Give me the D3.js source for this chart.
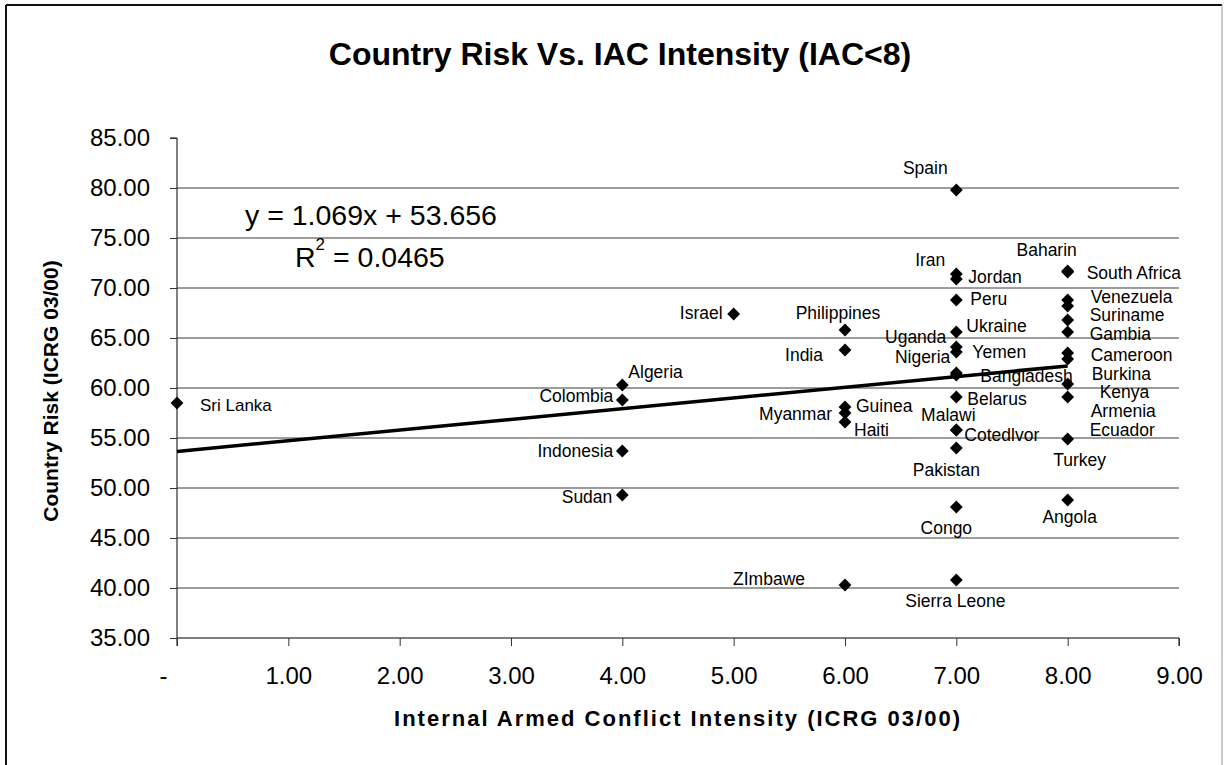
<!DOCTYPE html>
<html>
<head>
<meta charset="utf-8">
<script src="https://cdn.jsdelivr.net/npm/d3@7"></script>
<style>
  html, body { margin: 0; padding: 0; background: #fff; }
  text { font-family: "Liberation Sans", Arial, Helvetica, sans-serif; fill: #000; }
</style>
</head>
<body>
<svg id="chart" width="1225" height="765"></svg>
<script>
// Country risk (ICRG 03/00) against internal armed conflict intensity (ICRG 03/00)
const countries = [
  "Sri Lanka",
  "Algeria", "Colombia", "Indonesia", "Sudan",
  "Israel",
  "Philippines", "India", "Guinea", "Myanmar", "Haiti", "ZImbawe",
  "Spain", "Iran", "Jordan", "Peru", "Ukraine", "Uganda", "Yemen", "Nigeria",
  "Bangladesh", "Belarus", "Malawi", "Cotedlvor", "Pakistan", "Congo", "Sierra Leone",
  "Baharin", "South Africa", "Venezuela", "Suriname", "Gambia", "Cameroon", "Burkina",
  "Kenya", "Armenia", "Ecuador", "Turkey", "Angola"
];
const conflictIntensity = [
  0,
  4, 4, 4, 4,
  5,
  6, 6, 6, 6, 6, 6,
  7, 7, 7, 7, 7, 7, 7, 7,
  7, 7, 7, 7, 7, 7, 7,
  8, 8, 8, 8, 8, 8, 8,
  8, 8, 8, 8, 8
];
const countryRisk = [
  58.5,
  60.3, 58.8, 53.7, 49.3,
  67.4,
  65.8, 63.8, 58.1, 57.5, 56.6, 40.3,
  79.8, 71.4, 70.9, 68.8, 65.6, 64.1, 63.6, 61.5,
  61.3, 59.1, 55.8, 55.8, 54.0, 48.1, 40.8,
  71.7, 71.6, 68.8, 68.2, 66.8, 65.6, 63.5,
  62.9, 60.4, 59.1, 54.9, 48.8
];

const xTicks = [0, 1, 2, 3, 4, 5, 6, 7, 8, 9];
const xTickLabels = ["-", "1.00", "2.00", "3.00", "4.00", "5.00", "6.00", "7.00", "8.00", "9.00"];
const yTicks = [35, 40, 45, 50, 55, 60, 65, 70, 75, 80, 85];
const yTickLabels = ["35.00", "40.00", "45.00", "50.00", "55.00", "60.00", "65.00", "70.00", "75.00", "80.00", "85.00"];

// Linear trend fitted over the points
const trendSlope = 1.069;
const trendIntercept = 53.656;
const trendR2 = "0.0465";
const trendRange = [0, 8];

const titleText = "Country Risk Vs. IAC Intensity (IAC<8)";
const xTitle = "Internal Armed Conflict Intensity (ICRG 03/00)";
const yTitle = "Country Risk (ICRG 03/00)";

// Hand-placed label offsets (px from the marker): [dx, dy, anchor]
const labelOffsets = {
  "Sri Lanka": [23, 2, "start"],
  "Algeria": [6, -13, "start"],
  "Colombia": [-9, -4, "end"],
  "Indonesia": [-9, 0, "end"],
  "Sudan": [-10, 2, "end"],
  "Israel": [-11, -1, "end"],
  "Philippines": [-7, -17, "middle"],
  "India": [-22, 5, "end"],
  "Guinea": [11, -1, "start"],
  "Myanmar": [-13, 1, "end"],
  "Haiti": [9, 8, "start"],
  "ZImbawe": [-40, -6, "end"],
  "Spain": [-31, -22, "middle"],
  "Iran": [-11, -14, "end"],
  "Jordan": [12, -2, "start"],
  "Peru": [14, -1, "start"],
  "Ukraine": [10, -6, "start"],
  "Uganda": [-10, -10, "end"],
  "Yemen": [16, 0, "start"],
  "Nigeria": [-6, -16, "end"],
  "Bangladesh": [24, 1, "start"],
  "Belarus": [11, 2, "start"],
  "Malawi": [-8, -15, "middle"],
  "Cotedlvor": [8, 5, "start"],
  "Pakistan": [-10, 22, "middle"],
  "Congo": [-10, 21, "middle"],
  "Sierra Leone": [-1, 21, "middle"],
  "Baharin": [-21, -21, "middle"],
  "South Africa": [19, 1, "start"],
  "Venezuela": [23, -3, "start"],
  "Suriname": [22, 9, "start"],
  "Gambia": [22, 14, "start"],
  "Cameroon": [23, 23, "start"],
  "Burkina": [24, 21, "start"],
  "Kenya": [32, 33, "start"],
  "Armenia": [23, 27, "start"],
  "Ecuador": [22, 33, "start"],
  "Turkey": [12, 21, "middle"],
  "Angola": [2, 17, "middle"]
};

const W = 1225, H = 765;
const plot = { left: 177, right: 1179, top: 138, bottom: 638 };

const svg = d3.select("#chart");

// Frame around the whole chart
svg.append("line").attr("x1", 6).attr("y1", 5).attr("x2", 1222).attr("y2", 5)
  .attr("stroke", "#111").attr("stroke-width", 2);
svg.append("line").attr("x1", 6).attr("y1", 5).attr("x2", 6).attr("y2", H)
  .attr("stroke", "#111").attr("stroke-width", 2);
svg.append("line").attr("x1", 1222).attr("y1", 5).attr("x2", 1222).attr("y2", H)
  .attr("stroke", "#999").attr("stroke-width", 1);

const x = d3.scaleLinear().domain([0, 9]).range([plot.left, plot.right]);
const y = d3.scaleLinear().domain([35, 85]).range([plot.bottom, plot.top]);

// Horizontal gridlines (the 85 line is not drawn, only its tick)
svg.append("g")
  .selectAll("line")
  .data(yTicks.filter(v => v > 35 && v < 85))
  .join("line")
  .attr("x1", plot.left).attr("x2", plot.right)
  .attr("y1", d => y(d)).attr("y2", d => y(d))
  .attr("stroke", "#3a3a3a").attr("stroke-width", 1);

// Y axis
const yAxis = d3.axisLeft(y)
  .tickValues(yTicks)
  .tickFormat((d, i) => yTickLabels[i])
  .tickSize(7)
  .tickPadding(20);
const gy = svg.append("g").attr("transform", `translate(${plot.left},0)`).call(yAxis);
gy.select(".domain").attr("d", `M-7,${plot.top}H0V${plot.bottom + 8}`).attr("stroke", "#000");
gy.selectAll(".tick line").attr("stroke", "#333");
gy.selectAll(".tick text")
  .attr("font-size", 24)
  .attr("font-family", "Liberation Sans, Arial, sans-serif")
  .attr("fill", "#000");

// X axis
const xAxis = d3.axisBottom(x)
  .tickValues(xTicks)
  .tickFormat((d, i) => xTickLabels[i])
  .tickSize(8)
  .tickPadding(21);
const gx = svg.append("g").attr("transform", `translate(0,${plot.bottom})`).call(xAxis);
gx.select(".domain").attr("d", `M${plot.left},0H${plot.right}V8`).attr("stroke", "#000");
gx.selectAll(".tick line").attr("stroke", "#333");
gx.selectAll(".tick text")
  .attr("font-size", 24)
  .attr("font-family", "Liberation Sans, Arial, sans-serif")
  .attr("fill", "#000")
  .attr("dx", (d, i) => xTickLabels[i] === "-" ? -14 : 0);

// Trend line from the fitted equation
const trendPts = trendRange.map(v => [v, trendSlope * v + trendIntercept]);
svg.append("path")
  .attr("d", d3.line().x(d => x(d[0])).y(d => y(d[1]))(trendPts))
  .attr("stroke", "#000").attr("stroke-width", 3.5).attr("fill", "none");

// Points
const points = countries.map((c, i) => ({ name: c, xv: conflictIntensity[i], yv: countryRisk[i] }));
const diamond = d3.symbol().type(d3.symbolSquare).size(82);
svg.append("g")
  .selectAll("path")
  .data(points)
  .join("path")
  .attr("d", diamond)
  .attr("transform", d => `translate(${x(d.xv)},${y(d.yv)}) rotate(45)`)
  .attr("fill", "#000");

// Point labels
svg.append("g")
  .selectAll("text")
  .data(points)
  .join("text")
  .attr("x", d => x(d.xv) + labelOffsets[d.name][0])
  .attr("y", d => y(d.yv) + labelOffsets[d.name][1])
  .attr("text-anchor", d => labelOffsets[d.name][2])
  .attr("dominant-baseline", "central")
  .attr("font-size", d => d.name === "Sri Lanka" ? 17 : 17.5)
  .text(d => d.name);

// Regression equation
svg.append("text")
  .attr("x", 245).attr("y", 215)
  .attr("dominant-baseline", "central")
  .attr("font-size", 28.5)
  .text(`y = ${trendSlope}x + ${trendIntercept}`);
const r2 = svg.append("text")
  .attr("x", 295).attr("y", 257)
  .attr("dominant-baseline", "central")
  .attr("font-size", 28.5);
r2.append("tspan").text("R");
r2.append("tspan").attr("font-size", 17).attr("dy", -13).text("2");
r2.append("tspan").attr("dy", 13).text(` = ${trendR2}`);

// Titles
svg.append("text")
  .attr("x", 620).attr("y", 54)
  .attr("text-anchor", "middle").attr("dominant-baseline", "central")
  .attr("font-size", 32).attr("font-weight", "bold")
  .text(titleText);
svg.append("text")
  .attr("x", 678).attr("y", 718)
  .attr("text-anchor", "middle").attr("dominant-baseline", "central")
  .attr("font-size", 22).attr("font-weight", "bold")
  .attr("letter-spacing", 2)
  .text(xTitle);
svg.append("text")
  .attr("transform", "translate(50,391) rotate(-90)")
  .attr("text-anchor", "middle").attr("dominant-baseline", "central")
  .attr("font-size", 21).attr("font-weight", "bold")
  .text(yTitle);
</script>
</body>
</html>
